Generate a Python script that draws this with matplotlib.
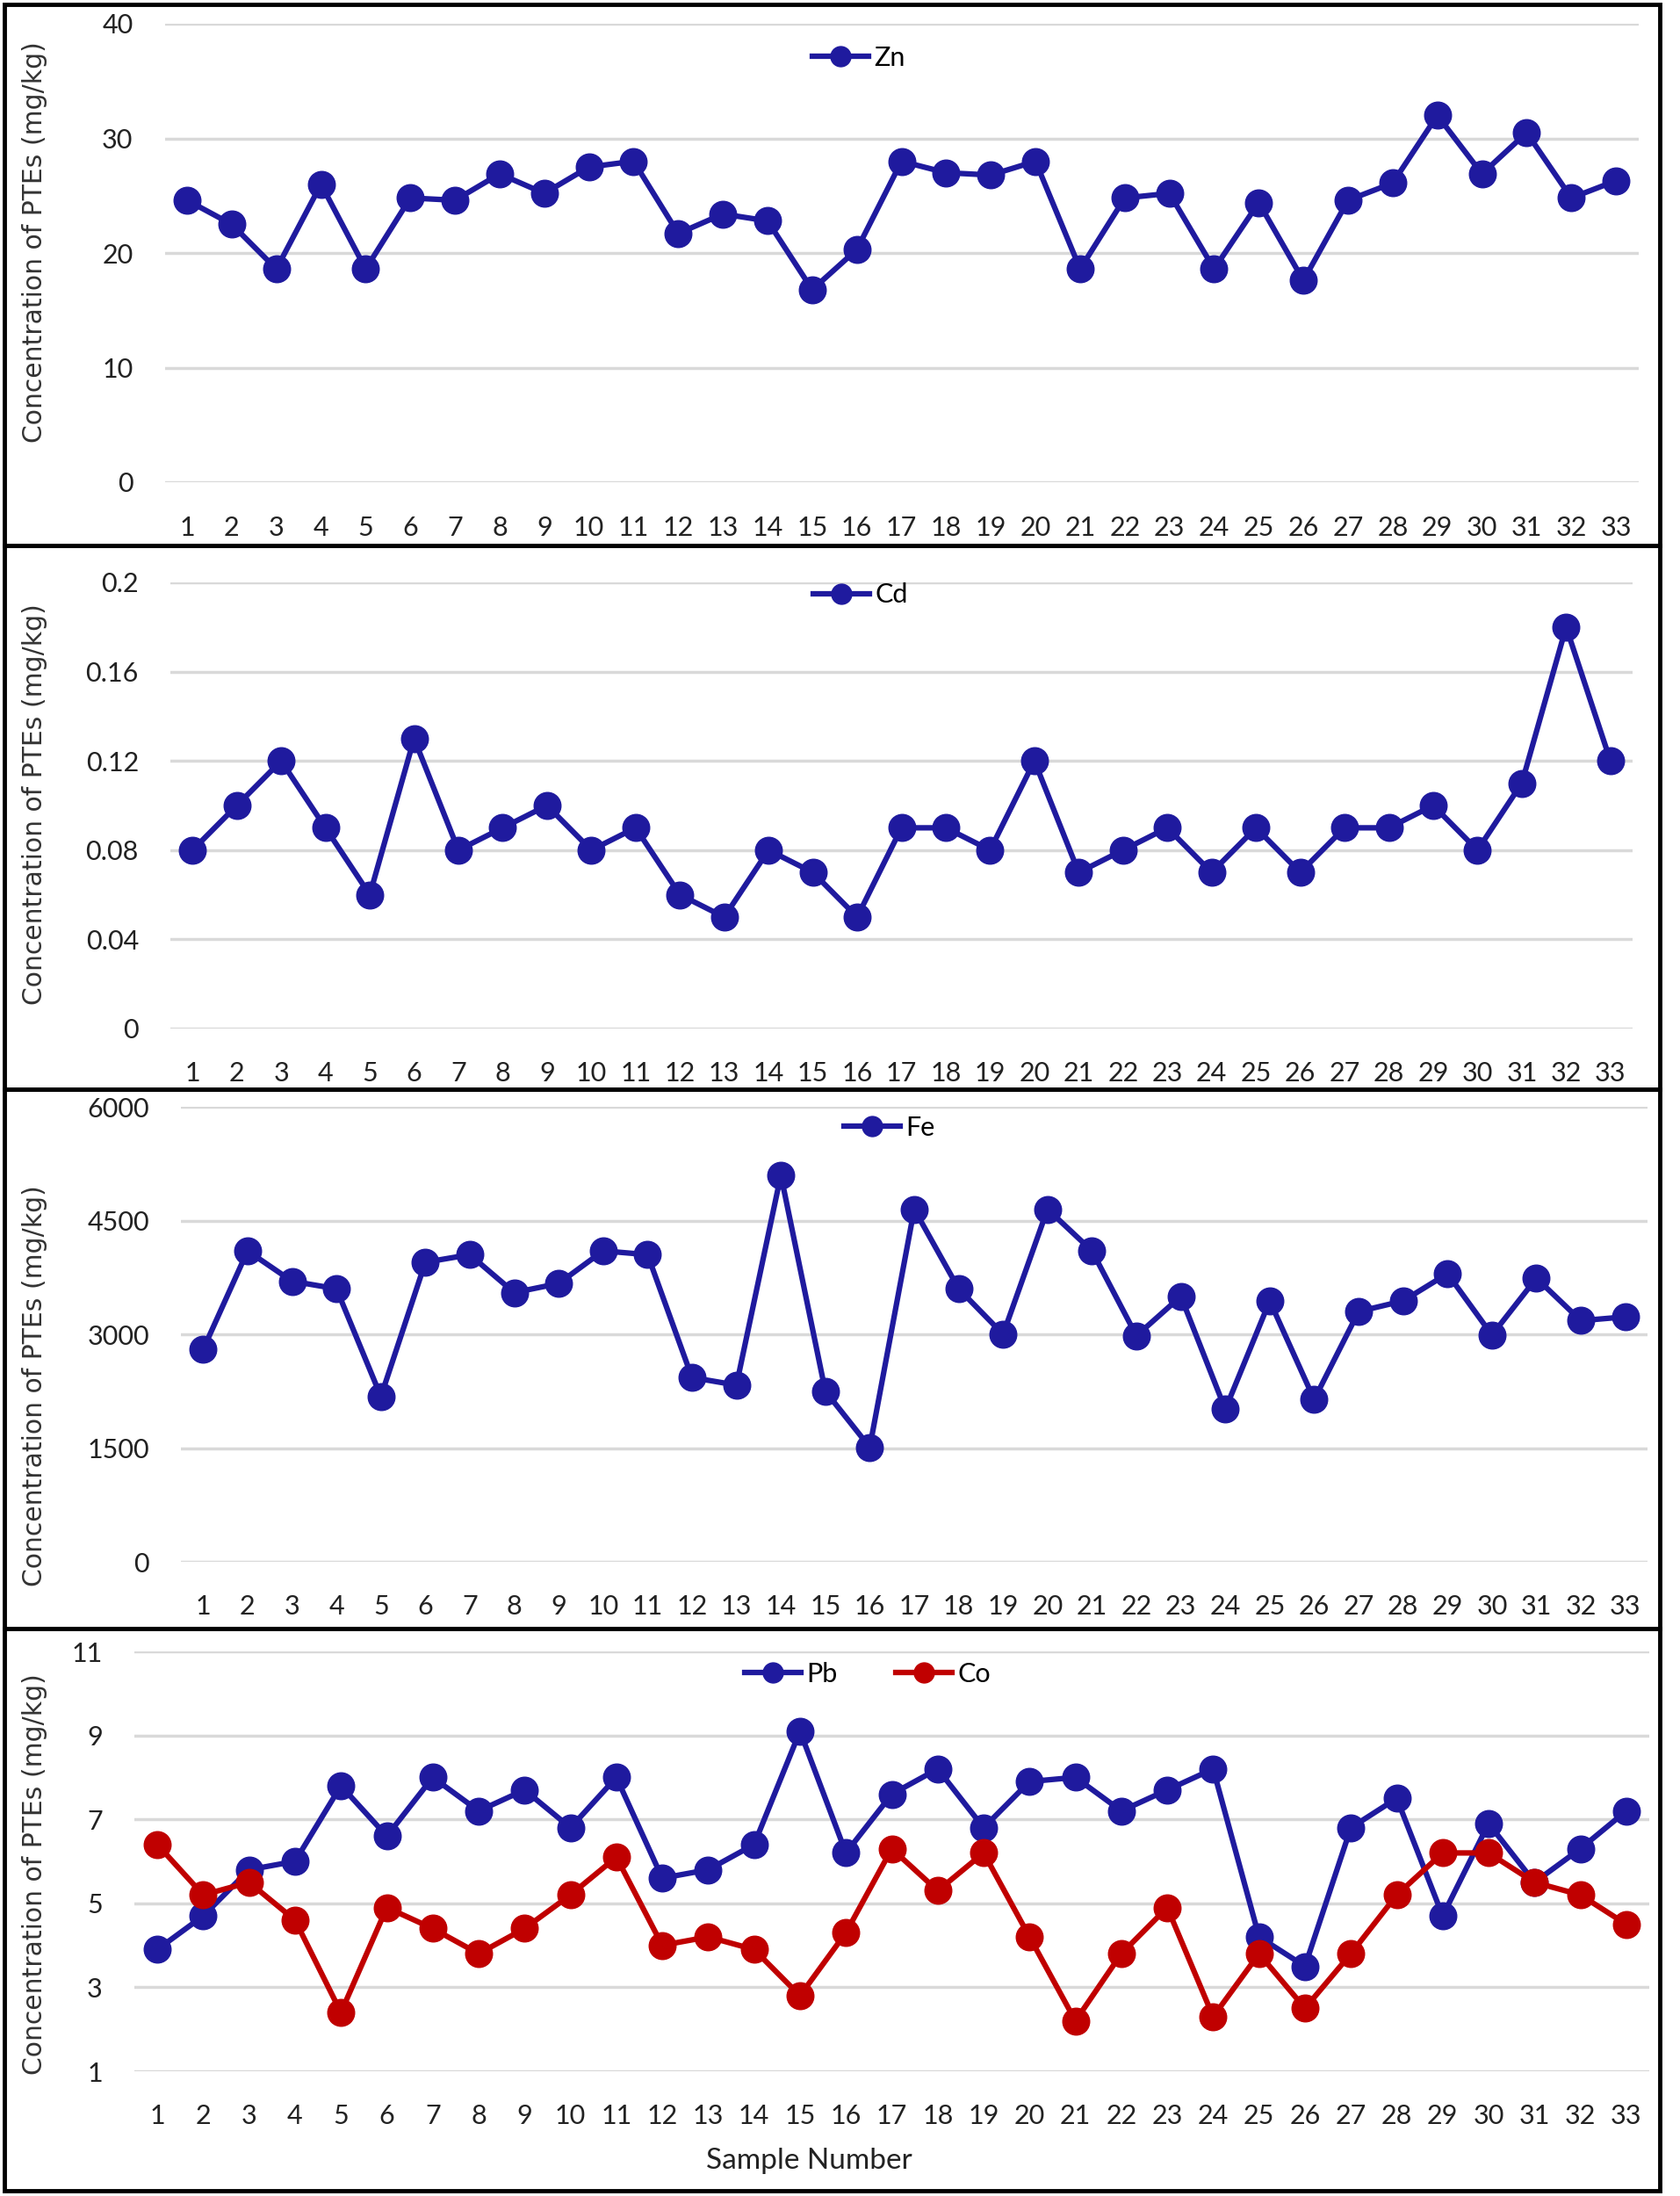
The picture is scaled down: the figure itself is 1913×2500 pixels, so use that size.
import numpy as np
import matplotlib
matplotlib.use('Agg')
import matplotlib.pyplot as plt
from matplotlib.patches import Rectangle

plt.rcParams['font.family'] = ['Lato', 'DejaVu Sans']

samples = list(range(1, 34))

zn = [24.6, 22.5, 18.6, 26.0, 18.6, 24.8, 24.6, 26.9, 25.2, 27.5, 28.0,
      21.7, 23.4, 22.8, 16.8, 20.3, 28.0, 27.0, 26.8, 28.0, 18.6, 24.8,
      25.2, 18.6, 24.4, 17.6, 24.6, 26.1, 32.0, 26.9, 30.5, 24.8, 26.3]
cd = [0.08, 0.10, 0.12, 0.09, 0.06, 0.13, 0.08, 0.09, 0.10, 0.08, 0.09,
      0.06, 0.05, 0.08, 0.07, 0.05, 0.09, 0.09, 0.08, 0.12, 0.07, 0.08,
      0.09, 0.07, 0.09, 0.07, 0.09, 0.09, 0.10, 0.08, 0.11, 0.18, 0.12]
fe = [2800, 4100, 3700, 3600, 2180, 3950, 4050, 3550, 3670, 4100, 4050,
      2430, 2330, 5100, 2250, 1510, 4650, 3600, 3000, 4650, 4100, 2980,
      3500, 2010, 3440, 2140, 3300, 3440, 3800, 2990, 3740, 3180, 3230]
pb = [3.9, 4.7, 5.8, 6.0, 7.8, 6.6, 8.0, 7.2, 7.7, 6.8, 8.0,
      5.6, 5.8, 6.4, 9.1, 6.2, 7.6, 8.2, 6.8, 7.9, 8.0, 7.2,
      7.7, 8.2, 4.2, 3.5, 6.8, 7.5, 4.7, 6.9, 5.5, 6.3, 7.2]
co = [6.4, 5.2, 5.5, 4.6, 2.4, 4.9, 4.4, 3.8, 4.4, 5.2, 6.1,
      4.0, 4.2, 3.9, 2.8, 4.3, 6.3, 5.3, 6.2, 4.2, 2.2, 3.8,
      4.9, 2.3, 3.8, 2.5, 3.8, 5.2, 6.2, 6.2, 5.5, 5.2, 4.5]

BLUE = '#1F1A9E'
RED = '#C00000'
GRID = '#D9D9D9'
TXT = '#222222'

W, H = 1913.0, 2500.0
fig = plt.figure(figsize=(W / 100, H / 100), dpi=100)

# pixel layout: x=(left, right) of plot area, y=(top gridline, bottom gridline),
# leg = legend centre in axes fraction, lab = y-label centre (px), box = border
panels = [
    dict(series=[('Zn', zn, BLUE)], ylim=(0, 40), yticks=[0, 10, 20, 30, 40],
         ylabels=['0', '10', '20', '30', '40'],
         x=(187.6, 1865.5), y=(27, 549), leg=(0.471, 0.925), lab=276,
         box=(5, 621)),
    dict(series=[('Cd', cd, BLUE)], ylim=(0, 0.2),
         yticks=[0, 0.04, 0.08, 0.12, 0.16, 0.2],
         ylabels=['0', '0.04', '0.08', '0.12', '0.16', '0.2'],
         x=(194, 1859), y=(663, 1171), leg=(0.472, 0.972), lab=916,
         box=(621, 1240)),
    dict(series=[('Fe', fe, BLUE)], ylim=(0, 6000),
         yticks=[0, 1500, 3000, 4500, 6000],
         ylabels=['0', '1500', '3000', '4500', '6000'],
         x=(206, 1876), y=(1260, 1778), leg=(0.483, 0.954), lab=1578,
         box=(1240, 1854)),
    dict(series=[('Pb', pb, BLUE), ('Co', co, RED)], ylim=(1, 11),
         yticks=[1, 3, 5, 7, 9, 11],
         ylabels=['1', '3', '5', '7', '9', '11'],
         x=(153, 1878), y=(1880, 2358), leg=(0.484, 0.946), lab=2134,
         box=(1854, 2494)),
]

for p in panels:
    l, r = p['x']
    t, b = p['y']
    ax = fig.add_axes([l / W, 1 - b / H, (r - l) / W, (b - t) / H])
    ax.patch.set_alpha(0)
    for name, vals, col in p['series']:
        ax.plot(samples, vals, '-o', color=col, lw=4.5, ms=22,
                markerfacecolor=col, markeredgecolor=col, label=name, zorder=3,
                clip_on=False)
    ax.set_xlim(0.5, 33.5)
    ax.set_ylim(*p['ylim'])
    ax.set_yticks(p['yticks'])
    ax.set_yticklabels(p['ylabels'])
    ax.set_xticks(samples)
    ax.set_xticklabels([str(s) for s in samples])
    ax.tick_params(axis='both', length=0, labelsize=22, colors=TXT)
    ax.tick_params(axis='y', pad=26)
    ax.tick_params(axis='x', pad=27)
    for s in ax.spines.values():
        s.set_visible(False)
    ax.grid(axis='y', color=GRID, lw=2.5)
    ax.set_axisbelow(True)
    ax.legend(loc='center', bbox_to_anchor=p['leg'], ncol=len(p['series']),
              frameon=False, fontsize=22, handlelength=2.1, handletextpad=0.2,
              columnspacing=2.2, markerscale=0.75, borderpad=0, borderaxespad=0)

    fig.text(40 / W, 1 - p['lab'] / H, 'Concentration of PTEs (mg/kg)',
             rotation=90, ha='center', va='center', fontsize=21.5,
             family='DejaVu Sans', color='#333333')

    bt, bb = p['box']
    fig.add_artist(Rectangle((5 / W, 1 - bb / H), 1885 / W, (bb - bt) / H,
                             transform=fig.transFigure, fill=False,
                             edgecolor='black', lw=3.5))

fig.text(921 / W, 1 - 2460 / H, 'Sample Number', ha='center', va='center',
         fontsize=24, color=TXT)

fig.savefig('out.png', dpi=100, facecolor='white')
